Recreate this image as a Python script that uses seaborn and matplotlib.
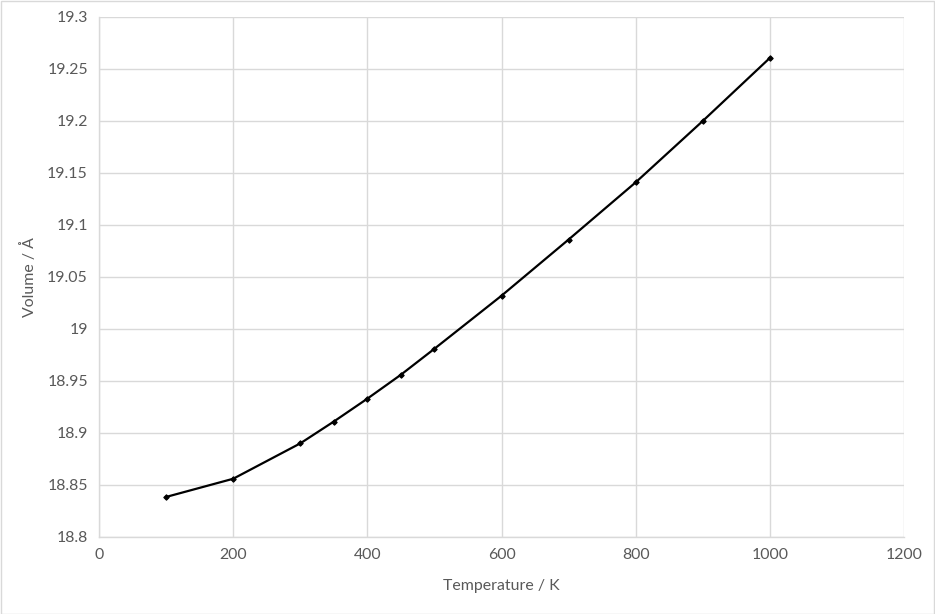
import numpy as np
import pandas as pd
import seaborn as sns
import matplotlib.pyplot as plt
from matplotlib.patches import Rectangle

# temperature (K) and volume (Å)
temperature = [100, 200, 300, 350, 400, 450, 500, 600, 700, 800, 900, 1000]
volume = [18.8385, 18.856, 18.890, 18.911, 18.933, 18.956, 18.981,
          19.032, 19.086, 19.141, 19.200, 19.2606]

x_ticks = [0, 200, 400, 600, 800, 1000, 1200]
y_ticks = [18.8, 18.85, 18.9, 18.95, 19.0, 19.05, 19.1, 19.15, 19.2, 19.25, 19.3]
y_labels = ["18.8", "18.85", "18.9", "18.95", "19", "19.05", "19.1",
            "19.15", "19.2", "19.25", "19.3"]

df = pd.DataFrame({"T": temperature, "V": volume})

sns.set_style("white")
plt.rcParams['font.family'] = ['Lato', 'DejaVu Sans']

fig = plt.figure(figsize=(9.35, 6.14), dpi=100)
ax = fig.add_axes([99 / 935, 1 - 537 / 614, 805 / 935, 520 / 614])

sns.lineplot(data=df, x="T", y="V", ax=ax, color="black", linewidth=1.6,
             marker="D", markersize=2.8, markeredgecolor="black")

ax.set_xlim(0, 1200)
ax.set_ylim(18.8, 19.3)
ax.set_xticks(x_ticks)
ax.set_yticks(y_ticks)
ax.set_yticklabels(y_labels)
ax.grid(True, color="#d9d9d9", linewidth=1)
ax.set_axisbelow(True)
for side in ["top", "right"]:
    ax.spines[side].set_visible(False)
for side in ["left", "bottom"]:
    ax.spines[side].set_color("#d9d9d9")
    ax.spines[side].set_linewidth(1)
ax.tick_params(axis="both", length=0, colors="#595959", labelsize=11.4, pad=8)
ax.set_xlabel("Temperature / K", color="#595959", fontsize=11.4, labelpad=12)
ax.set_ylabel("Volume / Å", color="#595959", fontsize=11.4, labelpad=7)

fig.patches.append(Rectangle((0.5 / 935, 0.5 / 614), 1 - 1.5 / 935, 1 - 1.5 / 614,
                             transform=fig.transFigure, fill=False,
                             edgecolor="#d9d9d9", linewidth=1))

fig.savefig("out.png", dpi=100)
